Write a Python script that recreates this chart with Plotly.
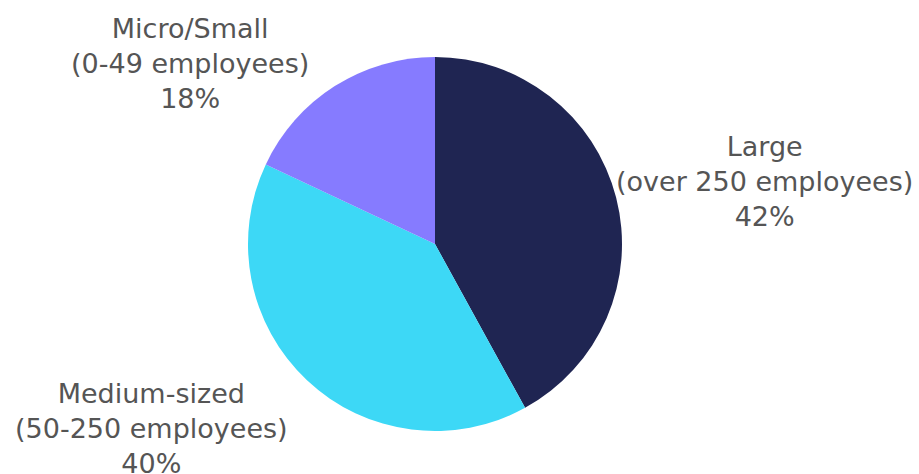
import plotly.graph_objects as go

labels = ["Large", "Medium-sized", "Micro/Small"]
sublabels = ["(over 250 employees)", "(50-250 employees)", "(0-49 employees)"]
values = [42, 40, 18]
colors = ["#1f2552", "#3dd8f6", "#867bff"]

W, H = 919, 474
cx, cy, r = 435, 244, 187

fig = go.Figure(go.Pie(
    labels=labels,
    values=values,
    marker=dict(colors=colors, line=dict(width=0)),
    sort=False,
    direction="clockwise",
    rotation=0,
    textinfo="none",
    hoverinfo="label+percent",
    showlegend=False,
    domain=dict(x=[(cx - r) / W, (cx + r) / W], y=[1 - (cy + r) / H, 1 - (cy - r) / H]),
))

# label block centres (pixels)
label_pos = [(764, 181), (151, 428), (190, 63)]
anns = []
for lab, sub, v, (px, py) in zip(labels, sublabels, values, label_pos):
    anns.append(dict(
        x=px / W, y=1 - py / H, xref="paper", yref="paper",
        text=f"{lab}<br>{sub}<br>{v}%", showarrow=False,
        xanchor="center", yanchor="middle", align="center",
        font=dict(family="DejaVu Sans", size=27, color="#555555"),
    ))

fig.update_layout(
    width=W, height=H,
    margin=dict(l=0, r=0, t=0, b=0),
    paper_bgcolor="white", plot_bgcolor="white",
    annotations=anns,
)
fig.write_html("out.html")
